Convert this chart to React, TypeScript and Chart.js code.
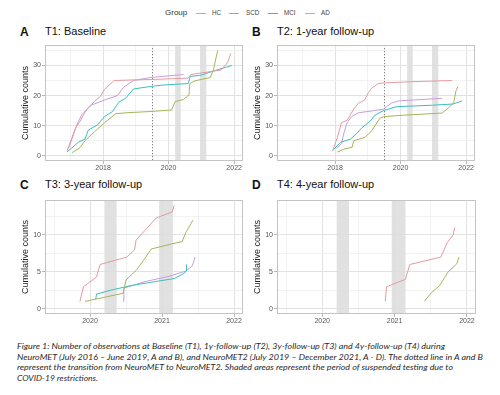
import React, { useEffect, useRef } from "react";
import { Chart, registerables } from "chart.js";
Chart.register(...registerables);

const groupNames = ["HC", "SCD", "MCI", "AD"];
const groupColors = ["#E59A9E", "#A4B657", "#3DBDBE", "#C89CDC"];

// ---- T1: Baseline ----
const hcT1Years = [2016.9, 2017.05, 2017.15, 2017.3, 2017.5, 2017.74, 2017.94, 2018.04, 2018.34, 2018.9, 2019.6, 2020.6, 2020.68, 2021.3, 2021.6, 2021.8, 2021.9];
const hcT1Counts = [1.5, 6, 9, 11.5, 15.5, 18, 20, 22, 25, 25.2, 25.4, 25.8, 27, 28, 28.5, 31, 34];
const scdT1Years = [2017.05, 2017.3, 2017.45, 2017.74, 2018.04, 2018.39, 2018.73, 2019.43, 2020.09, 2020.2, 2020.45, 2020.62, 2020.65, 2020.8, 2021.27, 2021.37, 2021.45, 2021.5];
const scdT1Counts = [1, 2.7, 5, 8, 10.9, 14, 14.3, 14.7, 15.2, 18, 18.7, 20.2, 24, 24.9, 26, 28.6, 32.7, 35];
const mciT1Years = [2016.9, 2017.25, 2017.45, 2017.55, 2017.84, 2018.04, 2018.29, 2018.49, 2018.68, 2018.93, 2019.43, 2019.82, 2020.6, 2020.66, 2020.95, 2021.05, 2021.4, 2021.93];
const mciT1Counts = [1.2, 4.5, 5.5, 8.5, 10.3, 13, 14.7, 17.9, 19, 22.2, 23, 23.5, 24, 26.4, 26.7, 27, 28.3, 30];
const adT1Years = [2016.95, 2017.1, 2017.2, 2017.35, 2017.64, 2018.04, 2018.44, 2018.63, 2018.93, 2019.43, 2019.82, 2020.45];
const adT1Counts = [2.5, 7, 10.3, 13.6, 16.8, 18.5, 20, 22.8, 25, 26, 26.4, 27];

// ---- T2: 1-year follow-up ----
const hcT2Years = [2017.92, 2018.07, 2018.2, 2018.37, 2018.57, 2018.72, 2018.9, 2019.02, 2019.12, 2019.32, 2019.5, 2020.3, 2021.57];
const hcT2Counts = [1.5, 6, 11, 11.8, 15.5, 17.5, 18.5, 21, 22.5, 24, 24.2, 24.6, 25];
const scdT2Years = [2018.07, 2018.27, 2018.52, 2018.57, 2018.92, 2019.12, 2019.37, 2019.5, 2019.97, 2021.27, 2021.47, 2021.62, 2021.69, 2021.75];
const scdT2Counts = [1.2, 2.2, 2.8, 5, 6.1, 8.3, 12.5, 13, 13.4, 14.2, 16, 17.7, 21.6, 23];
const mciT2Years = [2017.95, 2018.17, 2018.47, 2018.67, 2018.82, 2019.07, 2019.22, 2019.47, 2019.87, 2020.97, 2021.6, 2021.87];
const mciT2Counts = [2, 4.5, 5.5, 7.5, 9.3, 11.5, 13.5, 15, 16.3, 16.8, 17.2, 18.2];
const adT2Years = [2018.05, 2018.2, 2018.27, 2018.37, 2018.5, 2018.72, 2019.2, 2019.47, 2019.72, 2019.92, 2020.5, 2021.27];
const adT2Counts = [2.5, 4, 7.5, 11, 13, 14.3, 15, 15.5, 17.5, 18.2, 18.6, 19.1];

// ---- T3: 3-year follow-up ----
const hcT3Years = [2019.86, 2019.91, 2020.09, 2020.14, 2020.51, 2020.62, 2020.64, 2020.78, 2020.92, 2021.14, 2021.17];
const hcT3Counts = [1, 3, 4.3, 6, 7, 8, 9.3, 10.8, 12.3, 13.1, 14];
const scdT3Years = [2019.93, 2020.46, 2020.5, 2020.64, 2020.74, 2020.85, 2021.14, 2021.28, 2021.33, 2021.43];
const scdT3Counts = [1, 2.1, 3.9, 5.2, 6.5, 8.1, 8.8, 9.1, 10.3, 12];
const mciT3Years = [2020.08, 2020.09, 2020.32, 2020.6, 2021.17, 2021.29, 2021.34, 2021.34];
const mciT3Counts = [1.3, 2, 2.6, 3.2, 4.1, 4.7, 5.1, 6];
const adT3Years = [2020.46, 2020.47, 2020.77, 2021.1, 2021.33, 2021.42, 2021.46];
const adT3Counts = [1, 2.8, 3.7, 4.4, 5.1, 5.8, 7];

// ---- T4: 4-year follow-up ----
const hcT4Years = [2020.87, 2020.89, 2021.15, 2021.21, 2021.64, 2021.73, 2021.81, 2021.83];
const hcT4Counts = [1, 3, 4, 6, 7, 9, 10, 11];
const scdT4Years = [2021.41, 2021.51, 2021.62, 2021.74, 2021.86, 2021.89];
const scdT4Counts = [1, 2.2, 3.1, 5, 6.1, 7];

// ---- annotations ----
const covidStarts = [2020.2, 2020.96];
const covidEnds = [2020.37, 2021.15];
const transitionYear = 2019.5;

// ---- axes ----
const xLabelsAB = [2018, 2020, 2022];
const xMinorAB = [2017, 2019, 2021];
const yLabelsAB = [0, 10, 20, 30];
const yMinorAB = [5, 15, 25, 35];
const xLabelsCD = [2020, 2021, 2022];
const xMinorCD = [2019.5, 2020.5, 2021.5];
const yLabelsCD = [0, 5, 10];
const yMinorCD = [2.5, 7.5, 12.5];

const FONT = "'Liberation Sans', Arial, sans-serif";

const decorPlugin = {
  id: "decor",
  beforeDatasetsDraw(chart: any, _args: any, opts: any) {
    const { ctx, chartArea, scales } = chart;
    const { top, bottom } = chartArea;
    const x = scales.x;
    ctx.save();
    ctx.fillStyle = "rgba(222,222,222,0.9)";
    for (let i = 0; i < covidStarts.length; i++) {
      const a = x.getPixelForValue(covidStarts[i]);
      const b = x.getPixelForValue(covidEnds[i]);
      ctx.fillRect(a, top, b - a, bottom - top);
    }
    if (opts && opts.transition) {
      const tx = Math.round(x.getPixelForValue(transitionYear)) + 0.5;
      ctx.strokeStyle = "#333";
      ctx.lineWidth = 0.8;
      ctx.setLineDash([1, 2]);
      ctx.beginPath();
      ctx.moveTo(tx, top);
      ctx.lineTo(tx, bottom);
      ctx.stroke();
    }
    ctx.restore();
  },
  afterDraw(chart: any) {
    const { ctx, chartArea } = chart;
    ctx.save();
    ctx.strokeStyle = "#c4c4c4";
    ctx.lineWidth = 1;
    ctx.strokeRect(
      Math.round(chartArea.left) + 0.5,
      Math.round(chartArea.top) + 0.5,
      Math.round(chartArea.right - chartArea.left) - 1,
      Math.round(chartArea.bottom - chartArea.top) - 1
    );
    ctx.restore();
  },
};

type Series = { years: number[]; counts: number[]; group: number };

type PanelProps = {
  left: number;
  top: number;
  width: number;
  height: number;
  series: Series[];
  xMin: number;
  xMax: number;
  yMin: number;
  yMax: number;
  xLabels: number[];
  xMinor: number[];
  yLabels: number[];
  yMinor: number[];
  transition: boolean;
};

function makeScale(
  axis: "x" | "y",
  min: number,
  max: number,
  labels: number[],
  minor: number[]
) {
  const isMajor = (v: number) => labels.some((l) => Math.abs(l - v) < 1e-6);
  const base: any = {
    type: "linear",
    min,
    max,
    afterBuildTicks: (scale: any) => {
      scale.ticks = [...labels, ...minor]
        .sort((a, b) => a - b)
        .map((v) => ({ value: v }));
    },
    ticks: {
      autoSkip: false,
      maxRotation: 0,
      padding: axis === "x" ? 0 : 1,
      color: "#555",
      font: { family: FONT, size: 7 },
      callback: (v: any) => (isMajor(Number(v)) ? String(v) : ""),
    },
    grid: {
      color: (c: any) => (c.tick && isMajor(c.tick.value) ? "#e2e2e2" : "#efefef"),
      lineWidth: (c: any) => (c.tick && isMajor(c.tick.value) ? 1 : 0.8),
      tickColor: (c: any) => (c.tick && isMajor(c.tick.value) ? "#b8b8b8" : "rgba(0,0,0,0)"),
      tickLength: 3,
      drawTicks: true,
    },
    border: { display: false },
  };
  if (axis === "y") {
    base.title = {
      display: true,
      text: "Cumulative counts",
      color: "#222",
      font: { family: FONT, size: 9 },
      padding: { top: 10.5, bottom: 0 },
    };
    base.afterFit = (s: any) => {
      s.width = 35;
    };
  } else {
    base.afterFit = (s: any) => {
      s.height = 15;
    };
  }
  return base;
}

function Panel(p: PanelProps) {
  const ref = useRef<HTMLCanvasElement>(null);
  useEffect(() => {
    if (!ref.current) return;
    const chart = new Chart(ref.current, {
      type: "line",
      data: {
        datasets: p.series.map((s) => ({
          label: groupNames[s.group],
          data: s.years.map((x, i) => ({ x, y: s.counts[i] })),
          borderColor: groupColors[s.group],
          backgroundColor: groupColors[s.group],
          borderWidth: 1,
          pointRadius: 0,
          tension: 0,
          fill: false,
        })),
      },
      options: {
        animation: false,
        responsive: false,
        maintainAspectRatio: false,
        layout: { padding: { left: 0, top: 3, right: 5, bottom: 0 } },
        plugins: {
          legend: { display: false },
          tooltip: { enabled: false },
          decor: { transition: p.transition },
        } as any,
        scales: {
          x: makeScale("x", p.xMin, p.xMax, p.xLabels, p.xMinor),
          y: makeScale("y", p.yMin, p.yMax, p.yLabels, p.yMinor),
        },
      },
      plugins: [decorPlugin],
    });
    return () => chart.destroy();
  }, []);
  return (
    <canvas
      ref={ref}
      width={p.width}
      height={p.height}
      style={{ position: "absolute", left: p.left, top: p.top, width: p.width, height: p.height }}
    />
  );
}

const textBase: React.CSSProperties = {
  position: "absolute",
  whiteSpace: "nowrap",
  fontFamily: FONT,
};

function Label(props: { x: number; y: number; size: number; bold?: boolean; color?: string; children: any }) {
  return (
    <div
      style={{
        ...textBase,
        left: props.x,
        top: props.y - props.size * 0.6,
        fontSize: props.size,
        lineHeight: `${props.size * 1.2}px`,
        fontWeight: props.bold ? "bold" : "normal",
        color: props.color || "#111",
      }}
    >
      {props.children}
    </div>
  );
}

const legendLineX = [196, 229, 268, 305];
const legendTextX = [212, 246, 284, 321];

const captionLines = [
  "Figure 1: Number of observations at Baseline (T1), 1y-follow-up (T2), 3y-follow-up (T3) and 4y-follow-up (T4) during",
  "NeuroMET (July 2016 – June 2019, A and B), and NeuroMET2 (July 2019 – December 2021, A - D). The dotted line in A and B",
  "represent the transition from NeuroMET to NeuroMET2. Shaded areas represent the period of suspended testing due to",
  "COVID-19 restrictions.",
];
const captionWidths = [428, 466, 436, 81];

function Caption() {
  return (
    <svg
      width={500}
      height={60}
      style={{ position: "absolute", left: 0, top: 335 }}
    >
      {captionLines.map((t, i) => (
        <text
          key={i}
          x={17}
          y={13.8 + i * 10.7}
          textLength={captionWidths[i]}
          lengthAdjust="spacingAndGlyphs"
          fontSize={8.4}
          fontStyle="italic"
          fill="#2a2a2a"
          fontFamily="Lato, 'Open Sans', sans-serif"
        >
          {t}
        </text>
      ))}
    </svg>
  );
}

export default function App() {
  const s = (years: number[], counts: number[], group: number): Series => ({ years, counts, group });
  const ab = { xMin: 2016.23, xMax: 2022.27, yMin: -1.75, yMax: 36.75, xLabels: xLabelsAB, xMinor: xMinorAB, yLabels: yLabelsAB, yMinor: yMinorAB };
  const cd = { xMin: 2019.375, xMax: 2022.125, yMin: -0.7, yMax: 14.7, xLabels: xLabelsCD, xMinor: xMinorCD, yLabels: yLabelsCD, yMinor: yMinorCD };
  return (
    <div style={{ position: "absolute", left: 0, top: 0, width: 500, height: 395, background: "#fff", overflow: "hidden" }}>
      {/* legend */}
      <Label x={165} y={13} size={8} color="#333">Group</Label>
      {groupNames.map((g, i) => (
        <React.Fragment key={g}>
          <div style={{ position: "absolute", left: legendLineX[i], top: 12.5, width: 10, height: 1, background: groupColors[i] }} />
          <Label x={legendTextX[i]} y={13} size={6.3} color="#444">{g}</Label>
        </React.Fragment>
      ))}

      {/* panel headers */}
      <Label x={20} y={32} size={12} bold>A</Label>
      <Label x={45} y={32} size={11}>T1: Baseline</Label>
      <Label x={252} y={32} size={12} bold>B</Label>
      <Label x={277} y={32} size={11}>T2: 1-year follow-up</Label>
      <Label x={20} y={185} size={12} bold>C</Label>
      <Label x={45} y={185} size={11}>T3: 3-year follow-up</Label>
      <Label x={252} y={185} size={12} bold>D</Label>
      <Label x={277} y={185} size={11}>T4: 4-year follow-up</Label>

      <Panel left={10} top={40} width={238} height={136} transition={true} {...ab}
        series={[s(hcT1Years, hcT1Counts, 0), s(scdT1Years, scdT1Counts, 1), s(mciT1Years, mciT1Counts, 2), s(adT1Years, adT1Counts, 3)]} />
      <Panel left={242} top={40} width={238} height={136} transition={true} {...ab}
        series={[s(hcT2Years, hcT2Counts, 0), s(scdT2Years, scdT2Counts, 1), s(mciT2Years, mciT2Counts, 2), s(adT2Years, adT2Counts, 3)]} />
      <Panel left={10} top={195} width={238} height={134} transition={false} {...cd}
        series={[s(hcT3Years, hcT3Counts, 0), s(scdT3Years, scdT3Counts, 1), s(mciT3Years, mciT3Counts, 2), s(adT3Years, adT3Counts, 3)]} />
      <Panel left={242} top={195} width={239} height={134} transition={false} {...cd}
        series={[s(hcT4Years, hcT4Counts, 0), s(scdT4Years, scdT4Counts, 1)]} />

      <Caption />
    </div>
  );
}
